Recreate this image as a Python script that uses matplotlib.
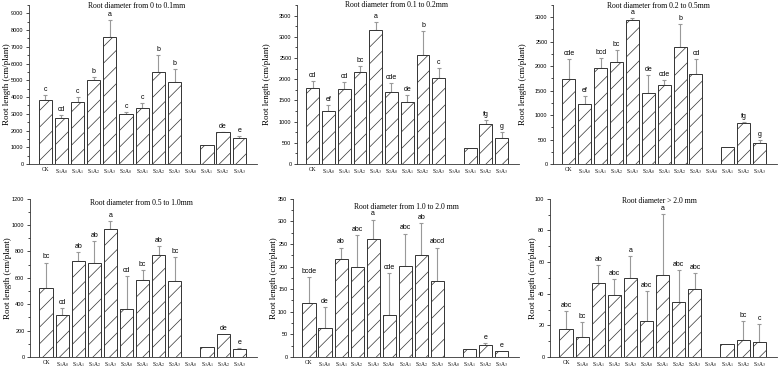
import numpy as np
import matplotlib
matplotlib.use("Agg")
import matplotlib.pyplot as plt
from matplotlib.ticker import MultipleLocator, AutoMinorLocator

plt.rcParams['font.family'] = ['Liberation Serif', 'DejaVu Serif']
plt.rcParams['mathtext.fontset'] = 'stix'
plt.rcParams['hatch.linewidth'] = 0.5
plt.rcParams['hatch.color'] = '#444444'

# treatments
categories = ['CK', r'S$_1$A$_0$', r'S$_1$A$_1$', r'S$_1$A$_2$', r'S$_1$A$_3$',
              r'S$_2$A$_0$', r'S$_2$A$_1$', r'S$_2$A$_2$', r'S$_2$A$_3$',
              r'S$_3$A$_0$', r'S$_3$A$_1$', r'S$_3$A$_2$', r'S$_3$A$_3$']

titles = ['Root diameter from 0 to 0.1mm', 'Root diameter from 0.1 to 0.2mm',
          'Root diameter from 0.2 to 0.5mm', 'Root diameter from 0.5 to 1.0mm',
          'Root diameter from 1.0 to 2.0 mm', 'Root diameter > 2.0 mm']

# mean root length (cm/plant)
len_0_01 = [3840, 2720, 3720, 5020, 7600, 2980, 3320, 5480, 4880, 0, 1130, 1900, 1560]
len_01_02 = [1800, 1250, 1780, 2160, 3160, 1690, 1460, 2560, 2040, 0, 375, 945, 620]
len_02_05 = [1740, 1234, 1963, 2086, 2952, 1452, 1609, 2386, 1841, 0, 341, 839, 430]
len_05_10 = [521, 319, 727, 711, 967, 365, 580, 775, 575, 0, 76, 175, 58]
len_10_20 = [120, 65, 217, 198, 260, 93, 202, 225, 167, 0, 17, 26, 13]
len_20 = [17.5, 12.5, 47, 39, 50, 22.5, 52, 35, 43, 0, 8, 11, 9.5]

# standard deviation (upper bar only)
sd_0_01 = [300, 210, 280, 180, 1020, 120, 340, 1020, 820, 0, 0, 20, 90]
sd_01_02 = [160, 150, 150, 160, 180, 220, 170, 580, 230, 0, 0, 85, 140]
sd_02_05 = [408, 150, 198, 245, 28, 368, 109, 470, 307, 0, 0, 27, 68]
sd_05_10 = [195, 51, 68, 167, 63, 250, 76, 66, 185, 0, 0, 0, 10]
sd_10_20 = [56, 45, 25, 71, 44, 92, 71, 72, 75, 0, 0, 5, 0]
sd_20 = [11.5, 9.5, 11, 10, 13.5, 19, 38.5, 20, 10, 0, 0, 12, 11.5]

# significance letters
sig_0_01 = ['c', 'cd', 'c', 'b', 'a', 'c', 'c', 'b', 'b', '', '', 'de', 'e']
sig_01_02 = ['cd', 'ef', 'cd', 'bc', 'a', 'cde', 'de', 'b', 'c', '', '', 'fg', 'g']
sig_02_05 = ['cde', 'ef', 'bcd', 'bc', 'a', 'de', 'cde', 'b', 'cd', '', '', 'fg', 'g']
sig_05_10 = ['bc', 'cd', 'ab', 'ab', 'a', 'cd', 'bc', 'ab', 'bc', '', '', 'de', 'e']
sig_10_20 = ['bcde', 'de', 'ab', 'abc', 'a', 'cde', 'abc', 'ab', 'abcd', '', '', 'e', 'e']
sig_20 = ['abc', 'bc', 'ab', 'abc', 'a', 'abc', 'a', 'abc', 'abc', '', '', 'bc', 'c']

panels = [
    (len_0_01, sd_0_01, sig_0_01, 9500, 1000),
    (len_01_02, sd_01_02, sig_01_02, 3750, 500),
    (len_02_05, sd_02_05, sig_02_05, 3250, 500),
    (len_05_10, sd_05_10, sig_05_10, 1200, 200),
    (len_10_20, sd_10_20, sig_10_20, 350, 50),
    (len_20, sd_20, sig_20, 100, 20),
]

W, H = 778, 368
# axes boxes in pixels: left, right, top, bottom
boxes = [(29, 257, 5, 164), (297, 519, 5, 164), (553, 777, 5, 164),
         (30, 257, 198.7, 357), (293, 519, 198.7, 357), (550, 777, 198.7, 357)]
title_pos = [(0.47, 0.995), (0.45, 1.0), (0.47, 0.995),
             (0.49, 0.973), (0.50, 0.946), (0.48, 0.984)]
ylab_x = [-0.081, -0.115, -0.115, -0.08, -0.067, -0.056]

fig = plt.figure(figsize=(W / 100, H / 100), dpi=100)

x = np.arange(len(categories))
for i, (vals, sds, sigs, ymax, step) in enumerate(panels):
    l, r, t, b = boxes[i]
    ax = fig.add_axes([l / W, 1 - b / H, (r - l) / W, (b - t) / H])
    vals = np.array(vals, dtype=float)
    sds = np.array(sds, dtype=float)
    keep = vals > 0
    ax.bar(x[keep], vals[keep], width=0.82, color='white', edgecolor='#333333',
           linewidth=0.7, hatch='//', zorder=2)
    has_err = keep & (sds > 0)
    ax.errorbar(x[has_err], vals[has_err],
                yerr=[np.zeros(has_err.sum()), sds[has_err]],
                fmt='none', ecolor='#999999', elinewidth=0.8, capsize=1.2,
                capthick=0.8, zorder=1)
    for xi, v, s, lab in zip(x, vals, sds, sigs):
        if lab:
            ax.annotate(lab, (xi, v + s), xytext=(0, 1.5), textcoords='offset points',
                        ha='center', va='bottom', fontsize=5,
                        family=['Liberation Sans', 'DejaVu Sans'])
    ax.set_xlim(-1, 13.1)
    ax.set_ylim(0, ymax)
    ax.set_xticks(x)
    ax.set_xticklabels(categories, fontsize=4)
    ax.tick_params(axis='x', length=0, pad=2)
    ax.yaxis.set_major_locator(MultipleLocator(step))
    ax.yaxis.set_minor_locator(AutoMinorLocator(2))
    ax.tick_params(axis='y', which='major', length=2.5, width=0.5, labelsize=4, pad=1.5)
    ax.tick_params(axis='y', which='minor', length=1.3, width=0.5)
    for lbl in ax.get_yticklabels():
        lbl.set_family(['Liberation Sans', 'DejaVu Sans'])
    for sp in ['top', 'right']:
        ax.spines[sp].set_visible(False)
    for sp in ['left', 'bottom']:
        ax.spines[sp].set_linewidth(0.6)
        ax.spines[sp].set_color('#333333')
    ax.set_ylabel('Root length (cm/plant)', fontsize=6.5)
    ax.yaxis.set_label_coords(ylab_x[i], 0.5)
    tx, ty = title_pos[i]
    ax.text(tx, ty, titles[i], transform=ax.transAxes, ha='center', va='center',
            fontsize=5.5)

fig.savefig('out.png', dpi=100)
